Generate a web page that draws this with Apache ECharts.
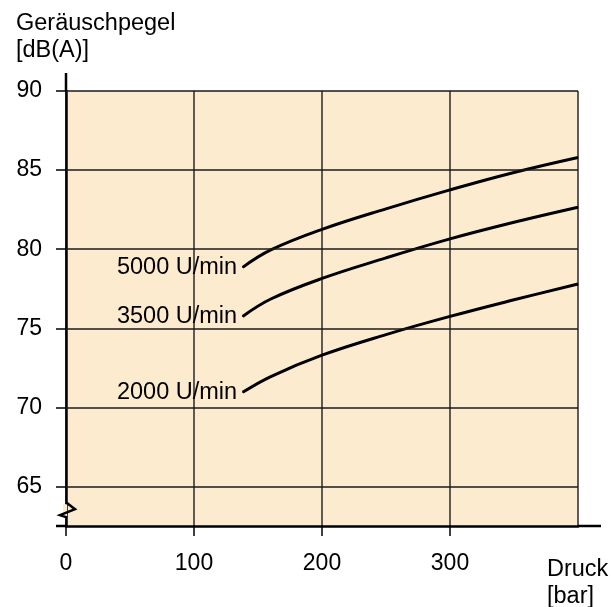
<!DOCTYPE html>
<html>
<head>
<meta charset="utf-8">
<script src="https://cdn.jsdelivr.net/npm/echarts@6/dist/echarts.min.js"></script>
<style>
  html, body { margin: 0; padding: 0; background: #fff; }
  #chart { width: 611px; height: 607px; }
</style>
</head>
<body>
<div id="chart"></div>
<script>
const pressure = [138, 160, 200, 250, 300, 350, 400];
// Geräuschpegel [dB(A)] je Drehzahl
const level5000 = [78.85, 79.95, 81.25, 82.55, 83.75, 84.85, 85.8];
const level3500 = [75.75, 76.85, 78.15, 79.45, 80.65, 81.7, 82.65];
const level2000 = [70.95, 71.95, 73.3, 74.6, 75.75, 76.8, 77.8];
const seriesNames = ['5000 U/min', '3500 U/min', '2000 U/min'];
const yTicks = [65, 70, 75, 80, 85, 90];

const font = '"Liberation Sans", Arial, Helvetica, sans-serif';
const bgColor = '#fdebcf';

function makeSeries(name, values) {
  return {
    name: name,
    type: 'line',
    smooth: 0.4,
    symbol: 'circle',
    symbolSize: 1,
    showSymbol: true,
    itemStyle: { color: '#000' },
    lineStyle: { color: '#000', width: 3 },
    label: {
      show: true,
      position: 'left',
      distance: 5,
      color: '#000',
      fontSize: 23.5,
      fontFamily: font,
      formatter: p => (p.dataIndex === 0 ? name : '')
    },
    data: pressure.map((p, i) => [p, values[i]])
  };
}

const chart = echarts.init(document.getElementById('chart'));
const series = [
  makeSeries(seriesNames[0], level5000),
  makeSeries(seriesNames[1], level3500),
  makeSeries(seriesNames[2], level2000)
];
// horizontale Gitterlinien
series[0].markLine = {
  silent: true,
  symbol: ['none', 'none'],
  label: { show: false },
  lineStyle: { color: '#1a1a1a', width: 1.5, type: 'solid' },
  data: yTicks.map(v => ({ yAxis: v }))
};

chart.setOption({
  animation: false,
  backgroundColor: '#fff',
  title: [{
    text: 'Geräuschpegel\n[dB(A)]',
    left: 16,
    top: 10,
    padding: 0,
    textStyle: { fontSize: 23.5, fontWeight: 'normal', lineHeight: 27, color: '#000', fontFamily: font }
  }, {
    text: 'Druck\n[bar]',
    left: 547,
    top: 556,
    padding: 0,
    textStyle: { fontSize: 23.5, fontWeight: 'normal', lineHeight: 27, color: '#000', fontFamily: font }
  }],
  grid: {
    left: 66,
    right: 33,
    top: 91,
    bottom: 81,
    show: true,
    backgroundColor: bgColor,
    borderWidth: 0
  },
  xAxis: {
    type: 'value',
    min: 0,
    max: 400,
    interval: 100,
    axisLine: { show: true, lineStyle: { color: '#000', width: 2.5 } },
    axisTick: { show: true, length: 10, lineStyle: { color: '#000', width: 1.5 } },
    axisLabel: { fontSize: 23, margin: 26, color: '#000', fontFamily: font, showMaxLabel: false },
    splitLine: { show: true, lineStyle: { color: '#2a2a2a', width: 1.5 } }
  },
  yAxis: {
    type: 'value',
    min: 62.5,
    max: 90,
    axisLine: { show: true, onZero: false, lineStyle: { color: '#000', width: 2.5 } },
    axisTick: { show: true, length: 10, customValues: yTicks, lineStyle: { color: '#000', width: 1.5 } },
    axisLabel: { fontSize: 23, margin: 24, color: '#000', fontFamily: font, customValues: yTicks },
    splitLine: { show: false }
  },
  series: series
});

// Achsverlängerungen und Achsbruch
const pTop = chart.convertToPixel({ gridIndex: 0 }, [0, 90]);
const pOrig = chart.convertToPixel({ gridIndex: 0 }, [0, 62.5]);
const pEnd = chart.convertToPixel({ gridIndex: 0 }, [400, 62.5]);
const pBreak = chart.convertToPixel({ gridIndex: 0 }, [0, 63.5]);
const ax = pOrig[0], cy = pBreak[1];
chart.setOption({
  graphic: [
    { type: 'line', z: 10, shape: { x1: pTop[0], y1: pTop[1] - 18, x2: pTop[0], y2: pTop[1] }, style: { stroke: '#000', lineWidth: 2.5 } },
    { type: 'line', z: 10, shape: { x1: pOrig[0] - 10, y1: pOrig[1], x2: pOrig[0], y2: pOrig[1] }, style: { stroke: '#000', lineWidth: 2.5 } },
    { type: 'line', z: 10, shape: { x1: pEnd[0], y1: pEnd[1], x2: pEnd[0] + 23, y2: pEnd[1] }, style: { stroke: '#000', lineWidth: 2.5 } },
    { type: 'rect', z: 10, shape: { x: ax - 3, y: cy - 6, width: 4, height: 12 }, style: { fill: bgColor } },
    { type: 'rect', z: 10, shape: { x: ax - 8, y: cy - 6, width: 5, height: 12 }, style: { fill: '#fff' } },
    { type: 'polyline', z: 11, shape: { points: [[ax, cy - 8], [ax + 9, cy - 1], [ax - 6, cy + 5], [ax, cy + 7], [ax, cy + 8]] }, style: { stroke: '#000', lineWidth: 2.5, fill: null } }
  ]
});
</script>
</body>
</html>
